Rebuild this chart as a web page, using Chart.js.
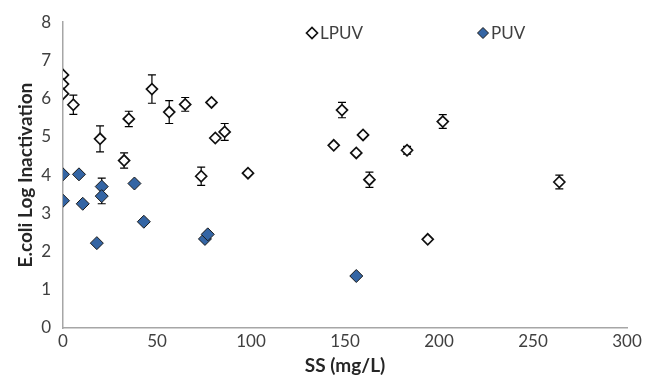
<!DOCTYPE html>
<html>
<head>
<meta charset="utf-8">
<script src="https://cdn.jsdelivr.net/npm/chart.js@4"></script>
<style>
  html, body { margin: 0; padding: 0; background: #fff; }
  #wrap { width: 648px; height: 381px; }
</style>
</head>
<body>
<div id="wrap"><canvas id="scatter"></canvas></div>
<script>
// LPUV (open diamonds)
var lpuvSS  = [0, 0, 0, 5.5, 19.7, 32.5, 35, 47.3, 56.5, 65, 79, 81, 86, 73.5, 98.4, 144, 148.4, 156, 159.6, 163, 183, 194, 202, 264];
var lpuvLog = [6.62, 6.38, 6.13, 5.84, 4.95, 4.38, 5.47, 6.25, 5.65, 5.85, 5.9, 4.97, 5.13, 3.97, 4.05, 4.78, 5.7, 4.58, 5.05, 3.88, 4.65, 2.32, 5.4, 3.82];
var lpuvErr = [0, 0, 0, 0.25, 0.34, 0.2, 0.2, 0.37, 0.3, 0.18, 0, 0, 0.22, 0.24, 0, 0, 0.2, 0, 0, 0.2, 0.1, 0, 0.18, 0.18];

// PUV (filled diamonds)
var puvSS  = [0, 8.5, 0, 10.5, 18, 20.6, 20.6, 38, 43, 75.5, 77, 156];
var puvLog = [4.02, 4.02, 3.33, 3.25, 2.22, 3.7, 3.45, 3.78, 2.78, 2.33, 2.45, 1.36];
var puvErr = [0, 0, 0, 0, 0, 0.22, 0.2, 0, 0, 0, 0, 0];

var seriesNames = ["LPUV", "PUV"];
var xTicks = [0, 50, 100, 150, 200, 250, 300];
var yTicks = [0, 1, 2, 3, 4, 5, 6, 7, 8];

function toPoints(xs, ys) {
  return xs.map(function (x, i) { return { x: x, y: ys[i] }; });
}

var fontFam = "Lato, 'Open Sans', sans-serif";

// error bars under the markers
var errorBars = {
  id: "errorBars",
  beforeDatasetsDraw: function (chart) {
    var ctx = chart.ctx;
    var xs = chart.scales.x, ys = chart.scales.y;
    var errs = [lpuvErr, puvErr];
    ctx.save();
    ctx.strokeStyle = "#000";
    ctx.lineWidth = 1.2;
    chart.data.datasets.forEach(function (ds, d) {
      ds.data.forEach(function (p, i) {
        var e = errs[d][i];
        if (!e) return;
        var px = xs.getPixelForValue(p.x);
        var top = ys.getPixelForValue(p.y + e);
        var bot = ys.getPixelForValue(p.y - e);
        ctx.beginPath();
        ctx.moveTo(px, top); ctx.lineTo(px, bot);
        ctx.moveTo(px - 4, top); ctx.lineTo(px + 4, top);
        ctx.moveTo(px - 4, bot); ctx.lineTo(px + 4, bot);
        ctx.stroke();
      });
    });
    ctx.restore();
  }
};

// legend sits inside the plot, items spread apart like the original
var insideLegend = {
  id: "insideLegend",
  afterDraw: function (chart) {
    var ctx = chart.ctx;
    var spots = [{ x: 312, y: 33 }, { x: 483, y: 33 }];
    ctx.save();
    ctx.font = "17px " + fontFam;
    ctx.textBaseline = "middle";
    chart.data.datasets.forEach(function (ds, i) {
      ctx.fillStyle = ds.backgroundColor;
      ctx.strokeStyle = ds.borderColor;
      ctx.lineWidth = ds.borderWidth;
      Chart.helpers.drawPoint(ctx, { pointStyle: "rectRot", radius: 5.5, borderWidth: ds.borderWidth }, spots[i].x, spots[i].y);
      ctx.fillStyle = "#404040";
      ctx.fillText(seriesNames[i], spots[i].x + 8, spots[i].y + 1);
    });
    ctx.restore();
  }
};

new Chart("scatter", {
  type: "scatter",
  data: {
    datasets: [
      {
        label: seriesNames[0],
        data: toPoints(lpuvSS, lpuvLog),
        pointStyle: "rectRot",
        pointRadius: 5.5,
        pointHoverRadius: 5.5,
        backgroundColor: "#ffffff",
        borderColor: "#111111",
        borderWidth: 1.7
      },
      {
        label: seriesNames[1],
        data: toPoints(puvSS, puvLog),
        pointStyle: "rectRot",
        pointRadius: 6.5,
        pointHoverRadius: 6.5,
        backgroundColor: "#3465a4",
        borderColor: "#1a1a1a",
        borderWidth: 1
      }
    ]
  },
  options: {
    responsive: true,
    maintainAspectRatio: false,
    animation: false,
    layout: { padding: { left: 6, right: 21, top: 18, bottom: 0 } },
    plugins: {
      legend: { display: false },
      tooltip: { enabled: false }
    },
    scales: {
      x: {
        type: "linear",
        min: 0,
        max: 300,
        afterBuildTicks: function (s) { s.ticks = xTicks.map(function (v) { return { value: v }; }); },
        afterFit: function (s) { s.height = 53; },
        grid: { display: false, drawTicks: false },
        border: { display: true, color: "#a6a6a6", width: 1.5 },
        ticks: { padding: 3, color: "#404040", font: { family: fontFam, size: 17 }, maxRotation: 0 },
        title: {
          display: true,
          text: "SS (mg/L)",
          color: "#262626",
          font: { family: fontFam, size: 19, weight: "bold" },
          padding: { top: 0, bottom: 4 }
        }
      },
      y: {
        type: "linear",
        min: 0,
        max: 8,
        afterBuildTicks: function (s) { s.ticks = yTicks.map(function (v) { return { value: v }; }); },
        afterFit: function (s) { s.width = 57; },
        grid: { display: false, drawTicks: false },
        border: { display: true, color: "#a6a6a6", width: 1.5 },
        ticks: { padding: 12, color: "#404040", font: { family: fontFam, size: 17 } },
        title: {
          display: true,
          text: "E.coli Log Inactivation",
          color: "#262626",
          font: { family: fontFam, size: 19, weight: "bold" },
          padding: { top: 8, bottom: 0 }
        }
      }
    }
  },
  plugins: [errorBars, insideLegend]
});
</script>
</body>
</html>
